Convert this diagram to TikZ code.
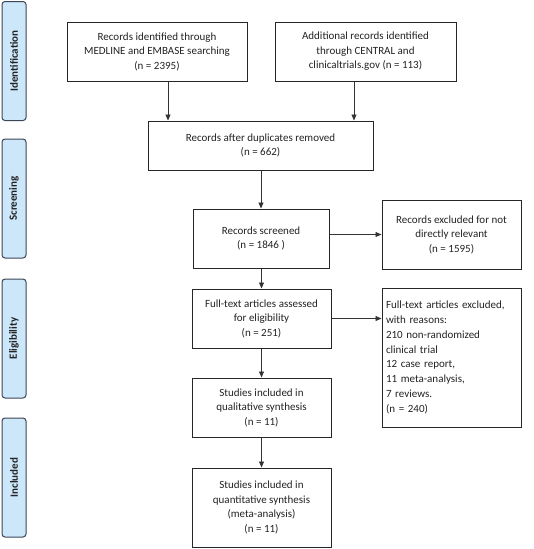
\documentclass[tikz,border=0pt]{standalone}
\usepackage{fontspec}
\setmainfont{Carlito}
\usetikzlibrary{arrows.meta}
\definecolor{sidefill}{RGB}{204,230,250}
\definecolor{sideline}{RGB}{60,70,85}
\definecolor{txt}{RGB}{35,35,35}
\begin{document}
\begin{tikzpicture}[x=1pt,y=-1pt,
  box/.style={draw=black!85, line width=1pt, fill=white, align=center, inner sep=2pt,
    font=\fontsize{11}{14.5}\selectfont, text=txt},
  side/.style={draw=sideline, line width=1pt, fill=sidefill, rounded corners=3pt,
    minimum width=119pt, minimum height=24pt, rotate=90,
    font=\bfseries\fontsize{11}{13}\selectfont, text=txt},
  arr/.style={draw=black!80, line width=0.9pt, -{Triangle[length=6pt,width=5pt]}}]
\useasboundingbox (0,0) rectangle (533,549);
\node[side] (s1) at (14,61) {Identification};
\node[side] (s2) at (14,198.5) {Screening};
\node[side] (s3) at (14,338.5) {Eligibility};
\node[side] (s4) at (14,477.5) {Included};

\node[box, minimum width=180pt, minimum height=59pt] (b1) at (157,51.5)
  {Records identified through\\MEDLINE and EMBASE searching\\(n = 2395)};
\node[box, minimum width=181pt, minimum height=59pt] (b2) at (365.5,51.5)
  {Additional records identified\\through CENTRAL and\\clinicaltrials.gov (n = 113)};
\node[box, minimum width=225pt, minimum height=49pt] (b3) at (260.5,145.5)
  {Records after duplicates removed\\(n = 662)};
\node[box, minimum width=136pt, minimum height=59pt] (b4) at (261,238.5)
  {Records screened\\(n = 1846 )};
\node[box, minimum width=139pt, minimum height=69pt] (b5) at (451.5,234.5)
  {Records excluded for not\\directly relevant\\(n = 1595)};
\node[box, minimum width=139pt, minimum height=139pt, text width=131pt, align=left,
  font=\fontsize{11}{14.8}\selectfont] (b7) at (451.5,357.5)
  {Full-text articles excluded,\\with reasons:\\210 non-randomized\\clinical trial\\12 case report,\\11 meta-analysis,\\7 reviews.\\(n = 240)};
\node[box, minimum width=139pt, minimum height=59pt] (b6) at (261.5,318.5)
  {Full-text articles assessed\\for eligibility\\(n = 251)};
\node[box, minimum width=139pt, minimum height=59pt] (b8) at (261.5,407.5)
  {Studies included in\\qualitative synthesis\\(n = 11)};
\node[box, minimum width=139pt, minimum height=79pt] (b9) at (261.5,507.5)
  {Studies included in\\quantitative synthesis\\(meta-analysis)\\(n = 11)};

\coordinate (a1) at (168,0);
\coordinate (a2) at (354,0);
\draw[arr] (b1.south -| a1) -- (a1 |- b3.north);
\draw[arr] (b2.south -| a2) -- (a2 |- b3.north);
\draw[arr] (b3.south -| b4.north) -- (b4.north);
\draw[arr] (b4.east |- b5.west) -- (b5.west);
\draw[arr] (b4.south -| b6.north) -- (b6.north);
\draw[arr] (b6.east) -- (b6.east -| b7.west);
\draw[arr] (b6.south) -- (b8.north);
\draw[arr] (b8.south) -- (b9.north);
\end{tikzpicture}
\end{document}
